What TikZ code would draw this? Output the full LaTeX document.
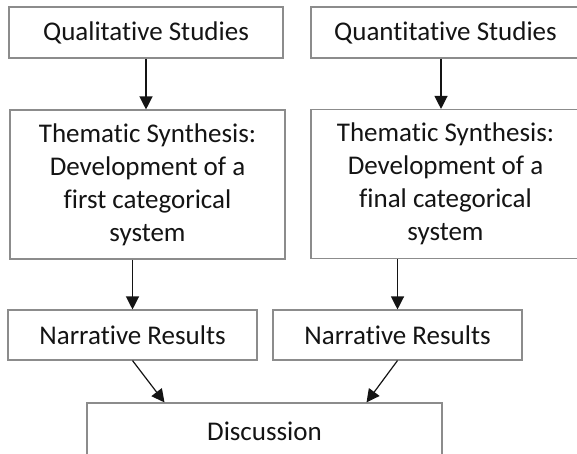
\documentclass[tikz,border=0pt]{standalone}
\usepackage{fontspec}
\setmainfont{Carlito}[Ligatures=NoCommon]
\usepackage{tikz}
\usetikzlibrary{arrows.meta,positioning,calc}
\definecolor{frame}{HTML}{8C8C8C}
\definecolor{ink}{HTML}{141414}
\tikzset{
  box/.style={rectangle, draw=frame, fill=white, line width=1.1pt, align=center,
              inner sep=0pt, text=ink, font=\fontsize{27}{33}\selectfont},
  flow/.style={-{Triangle[length=13pt,width=13pt]}, draw=ink, line width=1.2pt}
}
\begin{document}
\begin{tikzpicture}[x=1pt, y=-1pt]
 \useasboundingbox (0,0) rectangle (577,453);
 % two strands, side by side
 \node[box, minimum width=274pt, minimum height=51pt] (qual) at (146,32.5) {Qualitative Studies};
 \node[box, minimum width=269pt, minimum height=51pt] (quan) at (445.5,32.5) {Quantitative Studies};
 \node[box, minimum width=275pt, minimum height=149pt] (themL) at (147.5,184.5) {Thematic Synthesis:\\Development of a\\first categorical\\system};
 \node[box, minimum width=269pt, minimum height=149pt] (themR) at (445.5,184) {Thematic Synthesis:\\Development of a\\final categorical\\system};
 \node[box, minimum width=249pt, minimum height=50pt] (narrL) at (132.5,335) {Narrative Results};
 \node[box, minimum width=249pt, minimum height=50pt] (narrR) at (397.5,335) {Narrative Results};
 \node[box, minimum width=355pt, minimum height=56pt] (disc) at (264.5,431) {Discussion};
 \draw[flow] (qual) -- (themL.north -| qual);
 \draw[flow] ([xshift=-4.5pt]quan.south) -- ([xshift=-4.5pt]themR.north);
 \draw[flow] (themL.south -| narrL) -- (narrL);
 \draw[flow] (themR.south -| narrR) -- (narrR);
 \draw[flow] (narrL.south) -- ([xshift=-100pt]disc.north);
 \draw[flow] (narrR.south) -- ([xshift=102pt]disc.north);
\end{tikzpicture}
\end{document}
